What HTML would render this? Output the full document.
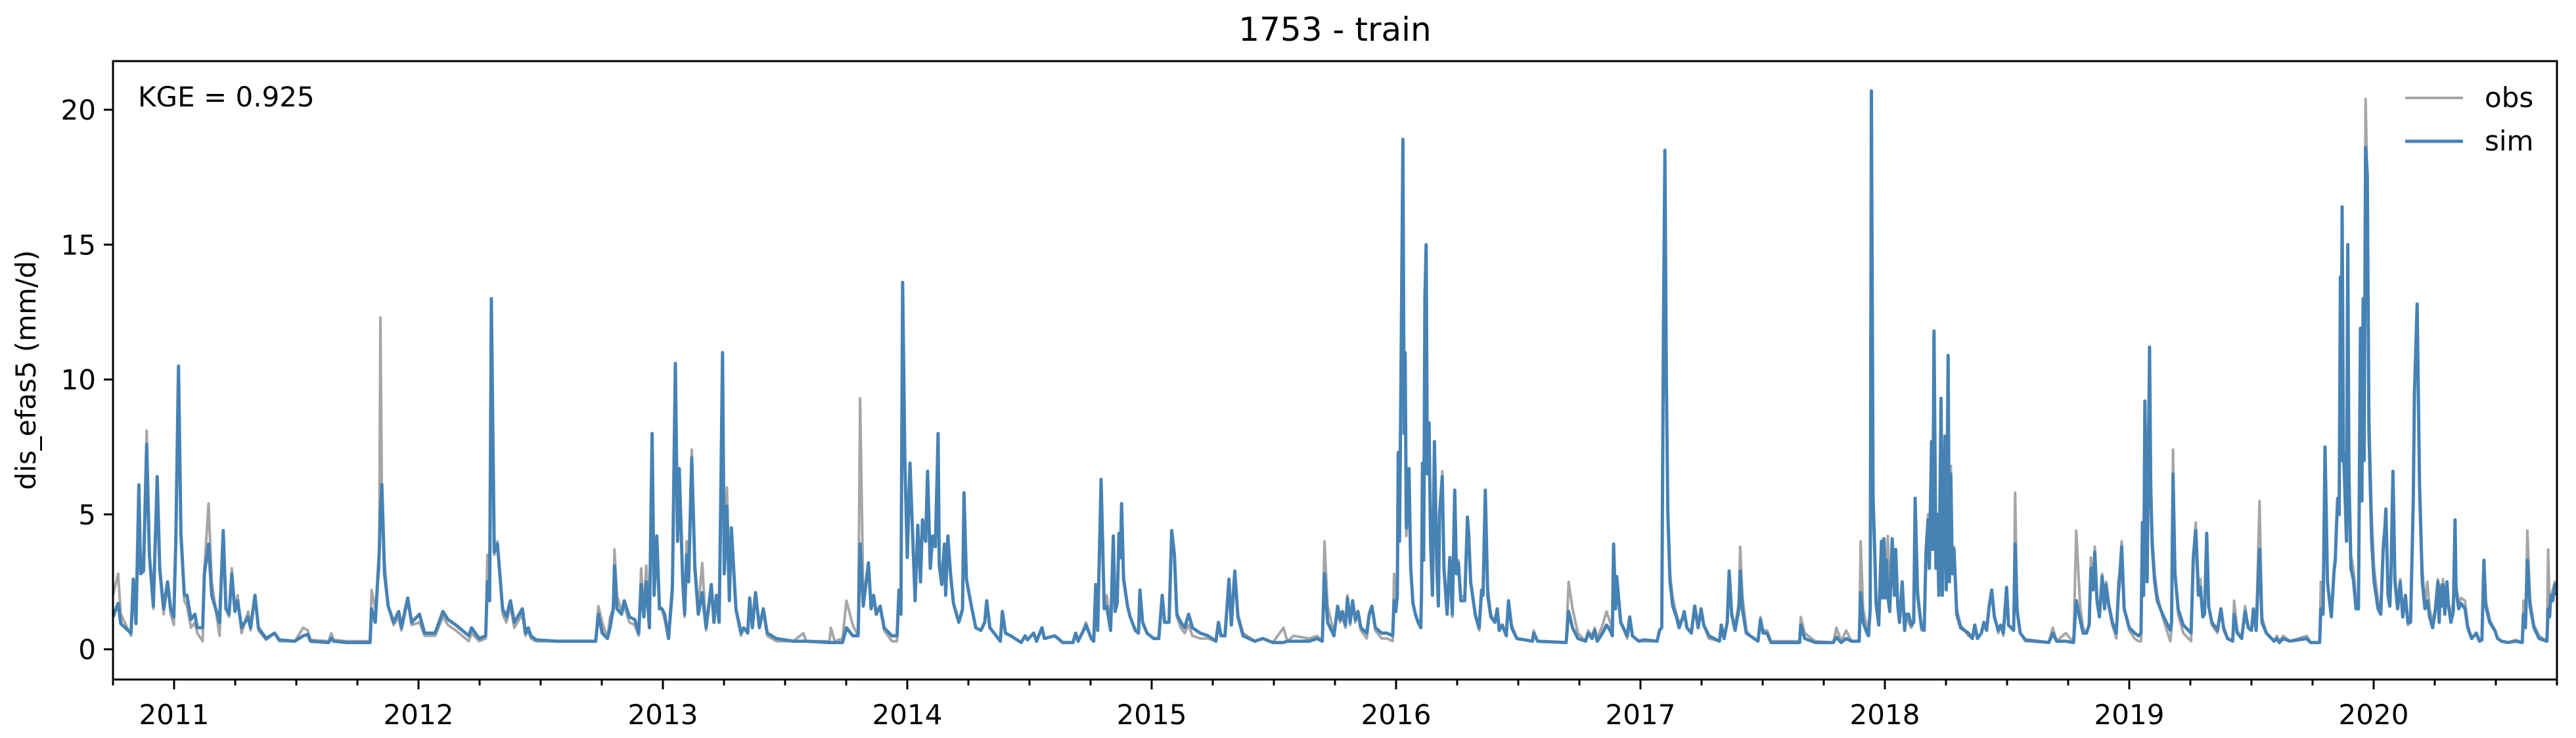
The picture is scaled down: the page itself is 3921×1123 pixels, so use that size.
<!DOCTYPE html>
<html><head><meta charset="utf-8"><style>
html,body{margin:0;padding:0;background:#fff;}
svg text{font-family:"DejaVu Sans","Liberation Sans",sans-serif;fill:#000;}
</style></head><body>
<svg id="chart" width="3921" height="1118" viewBox="0 0 3921 1118" xmlns="http://www.w3.org/2000/svg">
<rect width="3921" height="1118" fill="#fff"/>
<text x="2032" y="62" font-size="50" text-anchor="middle">1753 - train</text>
<text transform="translate(54,563) rotate(-90)" font-size="42" text-anchor="middle">dis_efas5 (mm/d)</text>
<g id="plot"></g>
<rect x="172" y="93" width="3720" height="941" fill="none" stroke="#000" stroke-width="3"/>
<g id="yaxis"></g>
<g id="xaxis"></g>
<text x="210" y="162" font-size="42">KGE = 0.925</text>
<g>
<line x1="3661" y1="149" x2="3749" y2="149" stroke="#a6a6a6" stroke-width="4"/>
<text x="3782" y="163" font-size="42">obs</text>
<line x1="3661" y1="215" x2="3749" y2="215" stroke="#4682b4" stroke-width="5"/>
<text x="3782" y="229" font-size="42">sim</text>
</g>
</svg>
<script>
const yTicks=[0,5,10,15,20];
const yTickLabels=["0","5","10","15","20"];
const xYears=[2011,2012,2013,2014,2015,2016,2017,2018,2019,2020];
const xYearLabels=["2011","2012","2013","2014","2015","2016","2017","2018","2019","2020"];
const dates=[
2010.750,2010.771,2010.782,2010.824,2010.833,2010.844,2010.856,2010.863,2010.875,2010.888,2010.899,2010.915,2010.931,2010.941,2010.957,2010.973,2010.986,2010.999,2011.007,2011.018,2011.028,2011.042,2011.053,2011.069,2011.085,2011.095,2011.117,2011.124,2011.141,2011.154,2011.186,2011.201,2011.212,2011.225,2011.236,2011.249,2011.260,2011.276,2011.303,2011.313,2011.331,2011.345,2011.377,2011.411,2011.430,2011.494,2011.528,2011.547,2011.558,2011.632,2011.643,2011.653,2011.706,2011.802,2011.808,2011.823,2011.839,2011.844,2011.850,2011.861,2011.876,2011.898,2011.919,2011.930,2011.956,2011.972,2012.004,2012.025,2012.068,2012.100,2012.121,2012.153,2012.206,2012.217,2012.248,2012.275,2012.282,2012.291,2012.298,2012.310,2012.323,2012.344,2012.360,2012.376,2012.392,
2012.425,2012.438,2012.449,2012.460,2012.481,2012.566,2012.725,2012.736,2012.752,2012.773,2012.784,2012.797,2012.802,2012.812,2012.831,2012.842,2012.863,2012.885,2012.901,2012.911,2012.922,2012.932,2012.945,2012.956,2012.964,2012.975,2012.986,2012.996,2013.007,2013.023,2013.039,2013.051,2013.060,2013.067,2013.081,2013.089,2013.097,2013.105,2013.118,2013.131,2013.145,2013.161,2013.177,2013.198,2013.209,2013.219,2013.230,2013.235,2013.244,2013.251,2013.262,2013.272,2013.280,2013.299,2013.320,2013.331,2013.347,2013.355,2013.366,2013.379,2013.395,2013.411,2013.427,2013.464,2013.533,2013.575,2013.586,2013.682,2013.687,2013.703,2013.735,2013.751,2013.777,2013.799,2013.807,2013.820,2013.841,2013.852,2013.862,2013.873,2013.889,2013.905,2013.937,2013.958,2013.966,2013.974,2013.981,2013.990,2014.000,2014.011,2014.032,2014.043,2014.054,2014.062,2014.075,
2014.083,2014.094,2014.104,2014.115,2014.126,2014.131,2014.141,2014.152,2014.157,2014.166,2014.177,2014.189,2014.211,2014.226,2014.232,2014.242,2014.258,2014.280,2014.301,2014.317,2014.325,2014.338,2014.381,2014.389,2014.402,2014.423,2014.466,2014.482,2014.492,2014.517,2014.529,2014.551,2014.561,2014.604,2014.636,2014.678,2014.689,2014.699,2014.721,2014.731,2014.753,2014.763,2014.771,2014.779,2014.793,2014.806,2014.816,2014.832,2014.843,2014.850,2014.859,2014.866,2014.872,2014.877,2014.885,2014.901,2014.912,2014.933,2014.946,2014.952,2014.963,2014.981,2015.008,2015.029,2015.043,2015.053,2015.071,2015.082,2015.093,2015.103,2015.119,2015.135,2015.151,2015.167,2015.199,2015.231,2015.263,2015.273,2015.284,2015.300,2015.316,2015.326,2015.340,2015.353,2015.374,2015.422,2015.454,2015.496,2015.539,2015.555,2015.581,2015.645,2015.677,2015.698,2015.707,2015.720,2015.746,
2015.761,2015.771,2015.780,2015.793,2015.801,2015.812,2015.822,2015.833,2015.844,2015.856,2015.880,2015.890,2015.901,2015.915,2015.941,2015.963,2015.986,2015.992,2015.999,2016.005,2016.009,2016.014,2016.021,2016.028,2016.033,2016.037,2016.042,2016.053,2016.060,2016.069,2016.079,2016.090,2016.101,2016.104,2016.108,2016.113,2016.118,2016.123,2016.128,2016.135,2016.141,2016.149,2016.157,2016.167,2016.173,2016.178,2016.189,2016.196,2016.209,2016.220,2016.230,2016.240,2016.247,2016.255,2016.265,2016.281,2016.292,2016.297,2016.305,2016.324,2016.340,2016.350,2016.356,2016.365,2016.375,2016.388,2016.404,2016.414,2016.422,2016.435,2016.451,2016.460,2016.473,2016.494,2016.558,2016.563,2016.579,2016.696,2016.706,2016.722,2016.744,2016.775,2016.786,2016.802,2016.813,2016.823,2016.845,2016.861,2016.876,2016.885,2016.890,2016.898,2016.903,2016.919,2016.946,2016.956,2016.967,2016.993,2017.015,2017.068,2017.078,2017.087,2017.094,2017.100,2017.106,2017.112,2017.121,2017.132,2017.147,2017.158,2017.174,2017.179,2017.190,2017.208,2017.222,2017.236,2017.248,2017.259,2017.280,2017.323,2017.331,2017.342,2017.355,2017.363,2017.373,2017.387,2017.403,2017.408,
2017.417,2017.433,2017.449,2017.481,2017.491,2017.502,2017.518,2017.534,2017.651,2017.656,2017.672,2017.715,2017.789,2017.802,2017.821,2017.842,2017.863,2017.895,2017.901,2017.911,2017.927,2017.933,2017.940,2017.945,2017.952,2017.959,2017.964,2017.975,2017.986,2017.991,2017.996,2018.001,2018.007,2018.012,2018.020,2018.030,2018.039,2018.044,2018.053,2018.060,2018.071,2018.081,2018.087,2018.097,2018.108,2018.118,2018.124,2018.134,2018.150,2018.161,2018.168,2018.177,2018.182,2018.191,2018.196,2018.201,2018.209,2018.214,2018.221,2018.230,2018.235,2018.246,2018.251,2018.259,2018.264,2018.270,2018.276,2018.283,2018.294,2018.310,2018.326,2018.342,2018.358,2018.368,2018.379,2018.395,2018.405,2018.416,2018.427,2018.437,2018.448,2018.464,2018.474,2018.485,2018.498,2018.506,2018.527,2018.533,2018.541,2018.554,2018.575,2018.671,2018.687,2018.703,2018.740,2018.772,2018.783,2018.799,2018.811,2018.825,2018.836,2018.843,2018.852,2018.859,2018.868,2018.878,2018.889,2018.899,2018.905,2018.915,2018.931,2018.947,2018.955,2018.960,2018.969,2018.979,2019.000,2019.022,2019.038,2019.048,2019.054,2019.059,2019.064,2019.073,
2019.083,2019.088,2019.094,2019.104,2019.115,2019.136,2019.157,2019.168,2019.173,2019.179,2019.187,2019.200,2019.221,2019.253,2019.262,2019.272,2019.283,2019.291,2019.301,2019.308,2019.317,2019.325,2019.338,2019.354,2019.361,2019.375,2019.386,2019.402,2019.423,2019.429,2019.442,2019.460,2019.474,2019.487,2019.500,2019.508,2019.519,2019.533,2019.543,2019.561,2019.593,2019.604,2019.614,2019.630,2019.657,2019.726,2019.742,2019.779,2019.784,2019.793,2019.801,2019.811,2019.827,2019.838,2019.843,2019.848,2019.853,2019.859,2019.864,2019.867,2019.871,2019.876,2019.880,2019.889,2019.894,2019.899,2019.907,2019.917,2019.928,2019.938,2019.946,2019.952,2019.957,2019.961,2019.967,2019.974,2019.981,2019.992,2020.002,2020.018,2020.029,2020.039,2020.045,2020.050,2020.059,2020.066,2020.071,2020.079,2020.087,2020.098,2020.109,2020.119,2020.130,2020.140,2020.151,2020.162,2020.167,2020.172,2020.178,2020.188,2020.199,2020.210,2020.220,2020.229,2020.241,2020.252,2020.263,2020.268,2020.273,2020.279,2020.284,2020.291,2020.300,2020.305,2020.316,2020.326,2020.333,2020.337,2020.348,2020.358,2020.374,2020.385,2020.401,2020.420,2020.433,2020.443,2020.451,2020.459,2020.475,2020.496,2020.507,2020.523,2020.550,2020.581,2020.608,2020.613,2020.621,2020.629,2020.640,2020.656,2020.677,2020.709,2020.714,2020.720,2020.725,2020.733,2020.741,2020.746];
const simValues=[
1.2,1.7,0.95,0.6,2.6,0.95,6.1,2.8,2.9,7.6,3.5,1.6,6.4,3.0,1.5,2.5,1.5,1.2,4.0,10.5,4.3,2.0,2.0,1.1,1.3,0.8,0.8,2.8,3.9,2.0,1.0,4.4,1.5,1.3,2.8,1.4,1.8,0.8,1.2,0.8,2.0,0.8,0.4,0.6,0.35,0.3,0.5,0.55,0.3,0.25,0.4,0.3,0.25,0.25,1.5,1.0,3.5,5.0,6.1,2.8,1.6,1.0,1.4,0.8,1.9,1.0,1.3,0.6,0.6,1.4,1.1,0.9,0.5,0.8,0.4,0.5,2.5,1.8,13.0,3.6,3.9,1.5,1.2,1.8,1.0,
1.5,0.6,0.8,0.5,0.35,0.3,0.3,1.3,0.6,0.4,0.8,1.5,3.1,1.5,1.3,1.8,1.2,1.1,0.6,2.4,1.2,2.5,0.8,8.0,2.0,4.2,1.5,1.5,1.3,0.4,2.3,10.6,4.0,6.7,2.6,1.3,3.5,2.5,7.1,3.0,1.3,2.1,0.8,2.4,1.0,2.0,1.0,4.2,11.0,2.8,5.3,1.8,4.5,1.5,0.6,0.8,0.6,1.9,0.8,2.1,0.8,1.5,0.6,0.4,0.3,0.3,0.3,0.25,0.25,0.25,0.25,0.8,0.5,0.5,3.9,1.6,3.2,1.5,2.0,1.3,1.6,0.8,0.5,0.5,2.2,1.3,13.6,7.0,3.4,6.9,1.8,4.6,2.5,4.8,4.0,
6.6,3.0,4.2,3.8,8.0,3.1,2.4,3.9,2.0,4.2,2.8,1.7,1.0,1.5,5.8,2.6,1.8,0.8,0.7,1.0,1.8,0.8,0.3,1.4,0.6,0.5,0.25,0.5,0.35,0.6,0.3,0.8,0.4,0.5,0.25,0.25,0.6,0.3,0.7,0.9,0.4,0.3,2.4,0.7,6.3,1.5,1.6,0.7,4.2,1.4,1.7,4.3,3.4,5.4,2.6,1.6,1.2,0.7,0.6,2.2,1.0,0.6,0.4,0.4,2.0,1.0,1.0,4.4,3.5,1.3,1.0,0.8,1.3,0.8,0.6,0.5,0.3,1.0,0.5,0.5,2.6,0.9,2.9,1.2,0.5,0.3,0.4,0.25,0.25,0.3,0.3,0.3,0.4,0.3,2.8,1.0,0.5,
1.6,1.1,1.4,0.9,1.9,1.0,1.8,1.1,1.4,0.8,0.6,1.3,1.6,0.8,0.6,0.6,0.5,1.8,1.4,2.0,7.3,4.0,11.0,18.9,8.0,11.0,4.5,6.7,3.0,1.7,1.3,1.0,0.8,2.0,6.9,3.3,13.0,15.0,6.5,8.4,4.0,2.0,7.7,3.0,1.6,5.0,6.4,3.0,1.3,3.4,1.3,5.9,2.8,3.2,1.8,1.8,4.9,4.3,2.5,1.3,0.8,2.2,2.0,5.9,2.0,1.2,1.0,1.5,0.7,0.9,0.5,1.8,0.8,0.4,0.3,0.6,0.3,0.25,1.4,0.8,0.4,0.3,0.6,0.4,0.7,0.3,0.6,0.9,0.7,0.5,3.9,1.5,2.7,1.0,0.5,1.2,0.5,0.3,0.35,0.3,0.7,0.8,12.0,18.5,10.0,5.0,2.5,1.6,1.2,0.8,1.2,1.4,0.8,0.6,1.6,0.8,1.5,0.9,0.5,0.3,0.9,0.4,1.0,2.9,1.3,0.7,1.5,2.9,
1.5,0.6,0.5,0.3,1.1,0.6,0.6,0.25,0.25,0.9,0.4,0.25,0.25,0.45,0.25,0.4,0.3,0.3,2.1,1.0,0.6,0.5,1.5,20.7,5.5,3.5,1.7,0.9,4.0,1.9,4.1,1.9,3.3,2.0,1.4,4.1,2.0,3.7,1.6,1.0,2.5,0.7,1.3,1.3,0.9,1.0,5.6,2.0,0.8,0.7,3.5,4.8,3.0,7.7,3.7,11.8,3.0,5.0,2.0,9.3,2.0,7.9,2.2,10.9,2.5,6.5,2.8,3.7,1.3,0.8,0.7,0.6,0.4,0.9,0.4,0.6,1.0,0.7,1.6,2.2,1.2,0.7,0.9,0.6,2.3,0.9,0.7,3.9,1.4,0.6,0.35,0.25,0.6,0.3,0.3,0.25,1.8,1.1,0.6,0.6,0.9,3.0,2.2,3.6,1.8,1.2,2.7,1.5,2.4,1.7,1.0,0.6,2.0,2.5,3.8,1.5,0.8,0.6,0.5,0.6,4.7,2.0,9.2,2.5,
11.2,6.0,3.8,2.5,1.8,1.3,0.9,0.7,1.0,6.5,2.8,1.5,0.9,0.6,3.4,4.4,2.0,2.3,1.2,1.3,4.3,1.6,1.0,0.8,0.7,1.5,0.8,0.4,0.3,1.3,0.6,0.4,1.4,0.8,0.7,1.5,0.7,3.7,1.0,0.6,0.3,0.4,0.25,0.4,0.3,0.4,0.25,0.25,1.5,1.3,7.5,2.5,1.2,2.9,3.3,4.6,5.6,5.0,13.8,7.0,16.4,7.5,6.5,4.0,15.0,6.5,3.0,2.6,1.5,1.5,11.9,5.5,13.0,7.0,18.6,17.6,8.0,4.0,2.5,1.5,1.3,3.7,4.3,5.2,2.0,1.6,2.8,6.6,2.5,1.5,2.5,1.2,2.0,1.0,1.0,5.5,9.5,11.0,12.8,6.0,2.5,1.5,1.8,1.2,0.8,1.4,2.5,1.0,2.3,1.6,2.4,1.3,2.5,1.7,1.0,1.4,4.8,2.2,1.5,1.7,1.5,0.8,0.4,0.6,0.3,0.35,3.3,1.6,1.0,0.7,0.4,0.3,0.25,0.3,0.25,1.3,0.8,3.3,1.6,0.8,0.4,0.3,1.5,1.2,2.0,1.8,2.4,2.0];
const obsValues=[
2.0,2.8,1.3,0.5,2.6,1.0,5.8,2.8,3.6,8.1,3.5,1.5,6.3,3.0,1.3,2.4,1.3,0.9,4.0,10.2,4.0,1.8,1.6,0.8,1.0,0.6,0.3,3.0,5.4,2.5,0.5,4.2,1.5,1.2,3.0,1.4,2.0,0.6,1.4,0.7,2.0,0.7,0.35,0.6,0.3,0.3,0.8,0.7,0.35,0.3,0.6,0.35,0.3,0.3,2.2,1.5,3.0,12.3,6.0,3.2,1.6,0.9,1.2,0.7,1.8,0.9,1.0,0.5,0.5,1.2,0.9,0.7,0.3,0.6,0.3,0.4,3.5,3.5,12.5,3.5,4.0,1.3,1.0,1.6,0.8,
1.3,0.5,0.7,0.4,0.3,0.3,0.3,1.6,1.0,0.4,1.2,1.5,3.7,2.0,1.4,1.6,1.0,0.9,0.5,3.0,1.4,3.1,0.8,7.5,2.5,3.5,1.6,1.5,1.1,0.4,2.0,10.2,5.0,6.0,2.6,1.2,4.0,2.5,7.4,3.2,1.5,3.2,0.7,2.3,1.0,2.0,1.0,4.5,10.7,3.2,6.0,2.0,4.2,1.4,0.5,0.8,0.6,1.6,0.8,2.0,0.8,1.4,0.5,0.3,0.3,0.6,0.3,0.3,0.8,0.3,0.4,1.8,0.9,0.5,9.3,2.0,3.0,1.6,2.0,1.4,1.6,0.7,0.3,0.3,2.2,1.3,13.0,7.5,3.5,6.5,2.0,4.4,2.6,4.5,4.0,
6.3,3.2,4.0,4.0,7.8,3.4,2.6,3.9,2.2,4.0,2.9,1.7,1.0,1.4,5.6,2.6,1.8,0.8,0.7,1.0,1.8,0.8,0.3,1.4,0.6,0.5,0.25,0.5,0.35,0.6,0.3,0.8,0.4,0.5,0.25,0.25,0.6,0.3,0.7,1.0,0.4,0.3,2.3,0.8,6.2,1.6,2.0,0.7,4.0,1.5,1.8,4.1,3.4,5.2,2.8,1.6,1.2,0.7,0.6,2.1,1.0,0.6,0.4,0.4,1.8,1.0,1.0,4.2,3.5,1.2,0.8,0.6,0.9,0.5,0.4,0.4,0.3,0.9,0.5,0.5,2.5,1.0,2.8,1.3,0.6,0.3,0.4,0.25,0.8,0.3,0.5,0.4,0.5,0.3,4.0,1.6,0.6,
1.4,1.0,1.2,0.8,2.0,0.9,1.7,1.0,1.3,0.7,0.4,1.2,1.6,0.7,0.4,0.4,0.3,2.8,1.5,2.5,7.0,4.5,9.0,18.6,9.0,10.5,4.2,5.8,3.0,1.8,1.3,1.0,0.9,2.0,6.5,3.8,12.5,14.8,6.8,8.0,4.5,2.5,7.5,3.4,2.0,5.0,6.6,3.2,1.3,3.3,1.2,5.7,3.0,3.3,2.0,1.9,4.7,4.5,2.5,1.2,0.7,2.0,2.0,5.8,2.3,1.3,1.0,1.5,0.8,0.9,0.5,1.8,0.9,0.4,0.3,0.7,0.3,0.25,2.5,1.5,0.6,0.3,0.7,0.5,0.8,0.4,0.9,1.4,1.0,0.6,3.7,1.8,2.5,1.0,0.4,1.0,0.5,0.3,0.3,0.3,0.7,0.8,11.0,18.3,10.0,5.5,2.8,1.9,1.3,1.0,1.1,1.3,0.8,0.6,1.5,0.8,1.4,0.9,0.4,0.3,0.8,0.4,1.0,2.8,1.4,0.8,1.8,3.8,
2.0,0.7,0.5,0.3,1.2,0.7,0.7,0.3,0.3,1.2,0.6,0.3,0.25,0.8,0.3,0.7,0.3,0.3,4.0,1.5,0.8,0.6,1.5,20.5,6.0,4.0,2.0,1.0,3.8,2.0,4.0,2.2,3.5,4.2,1.6,4.0,2.2,3.7,1.8,1.0,2.3,0.8,1.3,1.0,0.8,1.0,5.4,2.3,0.7,0.7,3.8,5.0,3.0,7.5,3.8,11.5,3.0,5.0,2.2,9.0,2.0,7.8,2.3,10.6,2.6,6.8,3.0,3.8,1.5,0.9,0.7,0.5,0.4,0.8,0.4,0.6,1.0,0.7,1.6,2.1,1.2,0.6,0.9,0.5,2.2,0.9,0.7,5.8,1.6,0.6,0.3,0.25,0.8,0.3,0.6,0.25,4.4,1.6,0.8,0.6,0.9,3.4,2.3,3.8,1.9,1.3,2.8,1.5,2.5,1.6,0.9,0.4,2.5,2.8,4.0,1.6,0.7,0.4,0.3,0.3,4.5,2.5,9.0,2.8,
11.0,6.5,4.2,2.8,2.0,1.2,0.6,0.3,0.8,7.4,2.8,1.3,0.6,0.3,3.5,4.7,2.5,2.6,1.2,1.3,4.1,1.6,0.9,0.7,0.6,1.5,0.7,0.4,0.3,1.8,0.7,0.4,1.6,0.8,0.7,1.5,0.7,5.5,1.2,0.6,0.3,0.5,0.3,0.5,0.3,0.5,0.25,0.25,2.5,1.5,7.3,2.5,1.2,3.0,3.5,4.5,5.5,5.2,13.5,7.5,16.2,8.0,6.5,4.5,14.7,6.8,3.5,3.0,1.8,1.8,11.5,6.0,12.8,7.0,20.4,17.3,9.0,5.0,3.0,1.8,1.4,4.0,4.5,5.0,2.2,1.8,3.0,6.0,2.8,1.6,2.6,1.2,2.0,0.9,1.0,5.5,9.5,10.8,12.5,6.5,3.0,1.7,2.5,1.5,1.0,1.5,2.6,1.3,2.4,1.8,2.6,1.5,2.5,1.8,1.2,1.8,4.8,2.4,1.7,1.9,1.8,0.9,0.4,0.6,0.3,0.35,3.2,1.8,1.1,0.7,0.4,0.3,0.25,0.35,0.25,1.8,1.0,4.4,1.8,0.9,0.5,0.3,3.7,1.6,2.0,2.2,2.5,2.3];

const X0=172,X1=3892,Y0=93,Y1=1034;
const T0=2010.75,T1=2020.75;
function xScale(t){return X0+(t-T0)/(T1-T0)*(X1-X0);}
function yScale(v){return 988-v*41.05;}
const NS='http://www.w3.org/2000/svg';
const plot=document.getElementById('plot');
function drawLine(vals,color,w,name){
  let d='';
  for(let i=0;i<dates.length&&i<vals.length;i++){
    d+=(i?'L':'M')+xScale(dates[i]).toFixed(1)+' '+yScale(vals[i]).toFixed(1);
  }
  const p=document.createElementNS(NS,'path');
  p.setAttribute('d',d);p.setAttribute('fill','none');p.setAttribute('stroke',color);
  p.setAttribute('stroke-width',w);p.setAttribute('stroke-linejoin','round');
  
  
  plot.appendChild(p);
}
drawLine(obsValues,'#a6a6a6',4,'obs-series-line');
drawLine(simValues,'#4682b4',5,'sim-series-line');

const ya=document.getElementById('yaxis');
yTicks.forEach((v,i)=>{
  const y=yScale(v);
  const l=document.createElementNS(NS,'line');
  l.setAttribute('x1',158);l.setAttribute('x2',172);l.setAttribute('y1',y);l.setAttribute('y2',y);
  l.setAttribute('stroke','#000');l.setAttribute('stroke-width',3);
  
  
  ya.appendChild(l);
  const t=document.createElementNS(NS,'text');
  t.setAttribute('x',146);t.setAttribute('y',y+15);t.setAttribute('font-size',42);t.setAttribute('text-anchor','end');
  t.textContent=yTickLabels[i];
  
  
  ya.appendChild(t);
});
const xa=document.getElementById('xaxis');
function tick(x,len,name){
  const l=document.createElementNS(NS,'line');
  l.setAttribute('x1',x);l.setAttribute('x2',x);l.setAttribute('y1',Y1);l.setAttribute('y2',Y1+len);
  l.setAttribute('stroke','#000');l.setAttribute('stroke-width',3);
  
  
  xa.appendChild(l);
}
for(let y=2010;y<=2020;y++){
  [0.25,0.5,0.75].forEach(q=>{const t=y+q;if(t>=T0&&t<=T1)tick(xScale(t),9,'x-minor-tick');});
}
xYears.forEach((yr,i)=>{
  const x=xScale(yr);
  tick(x,15,'x-major-tick');
  const t=document.createElementNS(NS,'text');
  t.setAttribute('x',x);t.setAttribute('y',1102);t.setAttribute('font-size',42);t.setAttribute('text-anchor','middle');
  t.textContent=xYearLabels[i];
  
  
  xa.appendChild(t);
});
</script>
</body></html>
